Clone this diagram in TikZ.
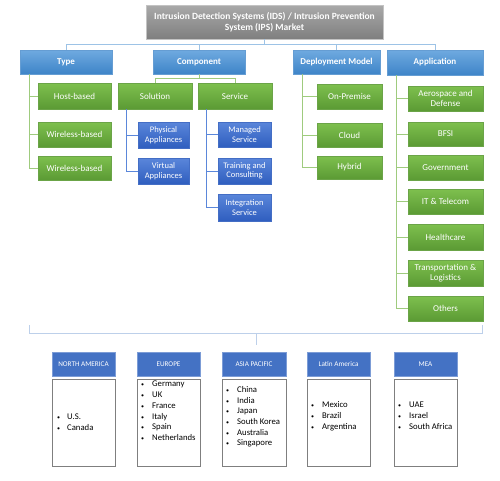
\documentclass[tikz,border=0pt]{standalone}
\usepackage{fontspec}
\setmainfont{Carlito}
\usetikzlibrary{shadows}
\definecolor{titletop}{HTML}{A9A9A9}
\definecolor{titlebot}{HTML}{7F7F7F}
\definecolor{lbtop}{HTML}{6FAAE0}
\definecolor{lbbot}{HTML}{3E84C8}
\definecolor{grtop}{HTML}{7EC04E}
\definecolor{grbot}{HTML}{5B9A34}
\definecolor{dbtop}{HTML}{5A86DA}
\definecolor{dbbot}{HTML}{2F5EBF}
\definecolor{hdr}{HTML}{4472C4}
\definecolor{lineblue}{HTML}{9DC3E6}
\definecolor{linegreen}{HTML}{9FCB7E}
\definecolor{linedb}{HTML}{5B87DA}
\definecolor{bracket}{HTML}{BDD0EA}
\definecolor{bodyedge}{HTML}{7F7F7F}
\tikzset{
  box/.style={inner sep=0pt, align=center, text=white,
    drop shadow={opacity=0.35, shadow xshift=0.8pt, shadow yshift=-0.8pt}},
  titlebox/.style={box, top color=titletop, bottom color=titlebot, draw=titletop!70,
    font=\fontsize{9.5}{11}\selectfont\bfseries},
  topbox/.style={box, top color=lbtop, bottom color=lbbot, draw=lbbot!80,
    font=\fontsize{9}{10}\selectfont\bfseries},
  greenbox/.style={box, top color=grtop, bottom color=grbot, draw=grbot!90,
    font=\fontsize{9}{10}\selectfont},
  bluebox/.style={box, top color=dbtop, bottom color=dbbot, draw=dbbot!90,
    font=\fontsize{8.5}{9.5}\selectfont},
  hdrbox/.style={inner sep=0pt, align=center, text=white, fill=hdr, draw=hdr!70,
    font=\fontsize{7.2}{8.5}\selectfont},
  bodybox/.style={inner sep=0pt, fill=white, draw=bodyedge, line width=0.9pt,
    drop shadow={opacity=0.25, shadow xshift=0.8pt, shadow yshift=-0.8pt}},
  listtext/.style={inner sep=0pt, anchor=west, text=black,
    font=\fontsize{8.7}{10.7}\selectfont},
  topline/.style={draw=lineblue, line width=0.9pt},
  gline/.style={draw=linegreen, line width=0.9pt},
  dbline/.style={draw=linedb, line width=0.9pt},
  brline/.style={draw=bracket, line width=1pt}
}
\newcommand\bx[7]{\node[#6, minimum width={(#4)-(#2)}, minimum height={(#5)-(#3)}] (#1) at ({((#2)+(#4))/2},{((#3)+(#5))/2}) {#7};}
\newcommand\bul{{\fontsize{6}{6}\selectfont\textbullet}}
\begin{document}
\begin{tikzpicture}[x=1pt,y=-1pt]
\useasboundingbox (0,0) rectangle (500,480);
% title
\bx{title}{146}{5}{383}{39}{titlebox}{Intrusion Detection Systems (IDS) / Intrusion Prevention\\System (IPS) Market}
% top level
\bx{type}{20}{50}{112}{74}{topbox}{Type}
\bx{comp}{153}{50}{245}{74}{topbox}{Component}
\bx{dep}{293}{50}{380}{74}{topbox}{Deployment Model}
\bx{app}{387}{50}{483}{75}{topbox}{Application}
% type children
\bx{host}{38}{83}{111}{109}{greenbox}{Host-based}
\bx{wl1}{38}{122}{111}{147}{greenbox}{Wireless-based}
\bx{wl2}{38}{156}{111}{180}{greenbox}{Wireless-based}
% component children
\bx{sol}{118}{83}{192}{109}{greenbox}{Solution}
\bx{serv}{198}{83}{272}{109}{greenbox}{Service}
\bx{phys}{138}{122}{189}{148}{bluebox}{Physical\\Appliances}
\bx{virt}{138}{158}{189}{184}{bluebox}{Virtual\\Appliances}
\bx{man}{218}{122}{271}{147}{bluebox}{Managed\\Service}
\bx{train}{218}{158}{271}{184}{bluebox}{Training and\\Consulting}
\bx{integ}{218}{194}{271}{221}{bluebox}{Integration\\Service}
% deployment children
\bx{onp}{317}{84}{382}{109}{greenbox}{On-Premise}
\bx{cloud}{317}{123}{382}{147}{greenbox}{Cloud}
\bx{hyb}{317}{156}{382}{179}{greenbox}{Hybrid}
% application children
\bx{aero}{408}{86}{483}{111}{greenbox}{Aerospace and\\Defense}
\bx{bfsi}{408}{122}{483}{146}{greenbox}{BFSI}
\bx{gov}{408}{155}{483}{180}{greenbox}{Government}
\bx{it}{408}{189}{483}{214}{greenbox}{IT \& Telecom}
\bx{health}{408}{224}{483}{250}{greenbox}{Healthcare}
\bx{trans}{408}{260}{483}{286}{greenbox}{Transportation \&\\Logistics}
\bx{others}{408}{296}{483}{321}{greenbox}{Others}
% connectors top
\coordinate (hy) at (0,44);
\draw[topline] (title.south) -- (title.south |- hy);
\draw[topline] (type.north) |- (app.north |- hy) -- (app.north);
\draw[topline] (comp.north) -- (comp.north |- hy);
\draw[topline] (dep.north) -- (dep.north |- hy);
% type tree
\coordinate (tx) at (29,0);
\draw[gline] (type.south -| tx) |- (wl2.west);
\draw[gline] (tx |- host.west) -- (host.west);
\draw[gline] (tx |- wl1.west) -- (wl1.west);
% component
\coordinate (cy) at (0,78);
\draw[gline] (comp.south) -- (comp.south |- cy);
\draw[gline] (sol.north) |- (serv.north |- cy) -- (serv.north);
\coordinate (sx) at (126,0);
\draw[dbline] (sol.south -| sx) |- (virt.west);
\draw[dbline] (sx |- phys.west) -- (phys.west);
\coordinate (vx) at (206,0);
\draw[dbline] (serv.south -| vx) |- (integ.west);
\draw[dbline] (vx |- man.west) -- (man.west);
\draw[dbline] (vx |- train.west) -- (train.west);
% deployment
\coordinate (dx) at (302,0);
\draw[gline] (dep.south -| dx) |- (hyb.west);
\draw[gline] (dx |- onp.west) -- (onp.west);
\draw[gline] (dx |- cloud.west) -- (cloud.west);
% application
\coordinate (ax) at (396,0);
\draw[gline] (app.south -| ax) |- (others.west);
\foreach \n in {aero,bfsi,gov,it,health,trans}
  \draw[gline] (ax |- \n.west) -- (\n.west);
% bracket
\coordinate (bl) at (29,325);
\coordinate (br) at (482,325);
\coordinate (by) at (0,333);
\coordinate (bc) at (256,345);
\draw[brline] (bl) -- (bl |- by) -- (br |- by) -- (br);
\draw[brline] (bc |- by) -- (bc);
% regions
\bx{naB}{52}{379}{115}{466}{bodybox}{}
\bx{euB}{137}{379}{200}{466}{bodybox}{}
\bx{apB}{222}{379}{286}{466}{bodybox}{}
\bx{laB}{307}{379}{370}{466}{bodybox}{}
\bx{meB}{394}{379}{457}{466}{bodybox}{}
\bx{naH}{52}{352}{115}{376}{hdrbox}{NORTH AMERICA}
\bx{euH}{137}{352}{200}{376}{hdrbox}{EUROPE}
\bx{apH}{222}{352}{286}{376}{hdrbox}{ASIA PACIFIC}
\bx{laH}{307}{352}{370}{376}{hdrbox}{Latin America}
\bx{meH}{394}{352}{457}{376}{hdrbox}{MEA}
\node[listtext] (naL) at (57,422.5) {\begin{tabular}{@{}l@{\hspace{7pt}}l@{}}\bul&U.S.\\\bul&Canada\end{tabular}};
\node[listtext] (euL) at (141,411.5) {\begin{tabular}{@{}l@{\hspace{8pt}}l@{}}\bul&Germany\\\bul&UK\\\bul&France\\\bul&Italy\\\bul&Spain\\\bul&Netherlands\end{tabular}};
\node[listtext] (apL) at (226,417) {\begin{tabular}{@{}l@{\hspace{8pt}}l@{}}\bul&China\\\bul&India\\\bul&Japan\\\bul&South Korea\\\bul&Australia\\\bul&Singapore\end{tabular}};
\node[listtext] (laL) at (311,416.5) {\begin{tabular}{@{}l@{\hspace{8pt}}l@{}}\bul&Mexico\\\bul&Brazil\\\bul&Argentina\end{tabular}};
\node[listtext] (meL) at (398,416.5) {\begin{tabular}{@{}l@{\hspace{8pt}}l@{}}\bul&UAE\\\bul&Israel\\\bul&South Africa\end{tabular}};
\end{tikzpicture}
\end{document}
